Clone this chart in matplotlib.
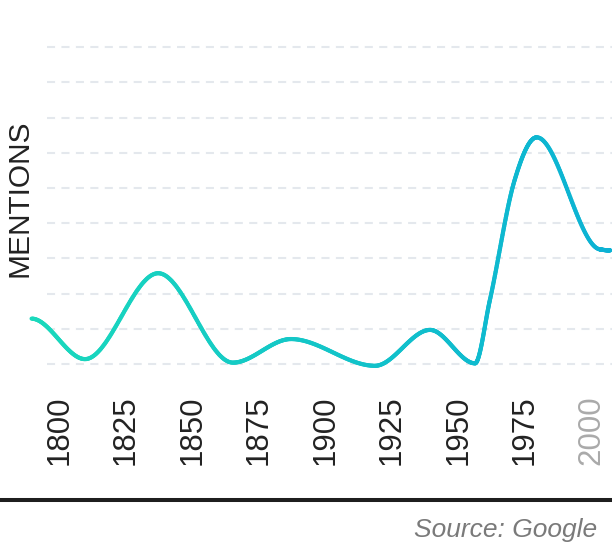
import numpy as np
import matplotlib
matplotlib.use("Agg")
import matplotlib.pyplot as plt
from matplotlib.collections import LineCollection
from matplotlib.colors import LinearSegmentedColormap
from matplotlib.lines import Line2D

plt.rcParams['font.family'] = ['Liberation Sans', 'DejaVu Sans']
plt.rcParams['lines.scale_dashes'] = False

# ---- data ----
years = [1789.5, 1809.6, 1837.1, 1865.2, 1887.0, 1918.6, 1939.3, 1956.2,
         1961.8, 1971.0, 1979.4, 2003.0, 2007.0]
mentions = [12.9, 1.4, 25.8, 0.4, 7.1, -0.5, 9.7, 0.2,
            18.2, 52.0, 64.4, 32.6, 32.3]
tick_years = [1800, 1825, 1850, 1875, 1900, 1925, 1950, 1975, 2000]
tick_labels = ['1800', '1825', '1850', '1875', '1900', '1925', '1950', '1975', '2000']
grid_values = [0, 10, 20, 30, 40, 50, 60, 70, 80, 90]
y_title = 'MENTIONS'
source = 'Source: Google'

color_left = '#1ad9bc'
color_right = '#0cb2d4'

W, H = 612, 544
fig = plt.figure(figsize=(W / 100, H / 100), dpi=100)

# axes placement (pixels from top-left)
ax_left_px, ax_right_px = 31.7, 612.0
ax_top_px, ax_bot_px = 40.2, 374.6
ax = fig.add_axes([ax_left_px / W, 1 - ax_bot_px / H,
                   (ax_right_px - ax_left_px) / W, (ax_bot_px - ax_top_px) / H])
ax.set_xlim(1789.55, 2007.7)
ax.set_ylim(-3, 92)
for s in ax.spines.values():
    s.set_visible(False)
ax.set_yticks([])

# dashed grid lines
ax.hlines(grid_values, 1795.4, 2007.7, colors='#e4e8ed', linewidth=1.5,
          linestyles=(0, (5.8, 4.6)), zorder=1)


# monotone cubic rendering of the series (flat tangents at the ends)
def monotone_curve(x, y, n=60):
    x = np.asarray(x, float)
    y = np.asarray(y, float)
    h = np.diff(x)
    s = np.diff(y) / h
    m = np.zeros_like(y)
    for i in range(1, len(x) - 1):
        p = (s[i - 1] * h[i] + s[i] * h[i - 1]) / (h[i - 1] + h[i])
        m[i] = (np.sign(s[i - 1]) + np.sign(s[i])) * min(abs(s[i - 1]), abs(s[i]), 0.5 * abs(p))
    xs, ys = [], []
    for i in range(len(x) - 1):
        t = np.linspace(0, 1, n, endpoint=(i == len(x) - 2))
        h00 = 2 * t**3 - 3 * t**2 + 1
        h10 = t**3 - 2 * t**2 + t
        h01 = -2 * t**3 + 3 * t**2
        h11 = t**3 - t**2
        xs.append(x[i] + t * h[i])
        ys.append(h00 * y[i] + h10 * h[i] * m[i] + h01 * y[i + 1] + h11 * h[i] * m[i + 1])
    return np.concatenate(xs), np.concatenate(ys)


cx, cy = monotone_curve(years, mentions)
pts = np.column_stack([cx, cy]).reshape(-1, 1, 2)
segs = np.concatenate([pts[:-1], pts[1:]], axis=1)
cmap = LinearSegmentedColormap.from_list('grad', [color_left, color_right])
mid = (cx[:-1] + cx[1:]) / 2
norm_x = (mid - min(years)) / (max(years) - min(years))
lc = LineCollection(segs, colors=cmap(norm_x), linewidths=3.0,
                    capstyle='round', joinstyle='round', zorder=3, clip_on=False)
ax.add_collection(lc)

# x ticks
ax.set_xticks(tick_years)
ax.set_xticklabels(tick_labels, rotation=90, fontsize=22.5, color='#222222')
ax.tick_params(axis='x', length=0, pad=15)
ax.get_xticklabels()[-1].set_color('#aaaaaa')

# y title
fig.text(19.5 / W, 1 - 198.7 / H, y_title, rotation=90, ha='center', va='center',
         fontsize=21.5, color='#222222')

# bottom rule
fig.add_artist(Line2D([0, 1], [1 - 500 / H, 1 - 500 / H], color='#1e1e1e',
                      linewidth=2.9, transform=fig.transFigure))

# source
fig.text(597 / W, 1 - 537 / H, source, ha='right', va='baseline', fontsize=19,
         style='italic', color='#7a7a7a')

fig.savefig('out.png', dpi=100)
